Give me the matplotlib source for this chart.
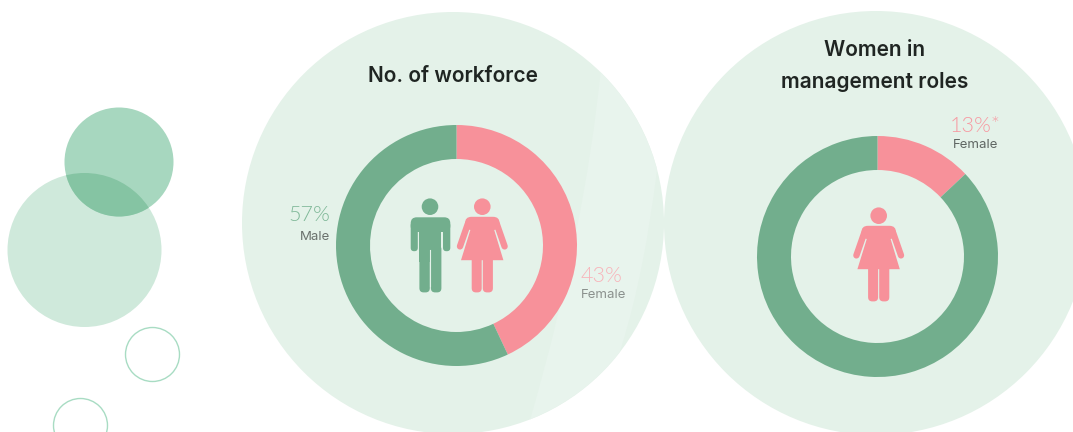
## DONUT INFOGRAPHIC: WORKFORCE AND WOMEN IN MANAGEMENT ##
import matplotlib.pyplot as plt
from matplotlib.patches import Circle, FancyBboxPatch, PathPatch, Polygon, Rectangle
from matplotlib.path import Path

## DATA ##
workforce_labels = ["Female", "Male"]
workforce_values = [43, 57]
management_labels = ["Female", "Male"]
management_values = [13, 87]

title_left = "No. of workforce"
title_right = ["Women in", "management roles"]

## COLORS ##
GREEN = "#72ae8d"
PINK = "#f7919a"
PALE = "#e4f2e9"
PALE_LIGHT = "#e8f4ed"

plt.rcParams['font.family'] = ['Inter', 'DejaVu Sans']
HEIGHT = 432


## FUNCTIONS ##
def flip(y):
    # layout is measured from the top edge
    return HEIGHT - y

def circle(ax, x, y, r, **kwargs):
    patch = Circle((x, flip(y)), r, **kwargs)
    ax.add_patch(patch)
    return patch

def round_box(ax, x0, y0, x1, y1, r, color):
    ax.add_patch(FancyBboxPatch((x0, flip(y1)), x1 - x0, y1 - y0,
                                boxstyle="round,pad=0,rounding_size=%g" % r,
                                fc=color, ec="none", zorder=5))

def donut(ax, values, x, y, colors):
    ax.pie(values, colors=colors, startangle=90, counterclock=False, center=(x, flip(y)),
           radius=120.5, wedgeprops=dict(width=34, edgecolor="none", zorder=4), frame=True)

def percent(ax, x, y, text, ha, color):
    ax.text(x, flip(y), text, ha=ha, va="center", fontsize=15.5, family=['Lato', 'DejaVu Sans'],
            fontweight=300, color=color, zorder=7)

def title(ax, x, y, text):
    ax.text(x, flip(y), text, ha="center", va="center", fontsize=15, fontweight=600,
            color="#1f2522", zorder=7)

def draw_man(ax, dx, dy):
    circle(ax, 430 + dx, 206.7 + dy, 8.3, fc=GREEN, ec="none", zorder=5)
    round_box(ax, 410.7 + dx, 217.3 + dy, 450.3 + dx, 232 + dy, 6, GREEN)
    round_box(ax, 410.7 + dx, 222 + dy, 417.8 + dx, 251.2 + dy, 3.4, GREEN)
    round_box(ax, 443 + dx, 222 + dy, 450.3 + dx, 251.2 + dy, 3.4, GREEN)
    ax.add_patch(Rectangle((419.4 + dx, flip(262 + dy)), 22, 40, fc=GREEN, ec="none", zorder=5))
    round_box(ax, 419.4 + dx, 245 + dy, 429.8 + dx, 292.4 + dy, 4.2, GREEN)
    round_box(ax, 430.9 + dx, 245 + dy, 441.4 + dx, 292.4 + dy, 4.2, GREEN)
    ax.plot([430.3 + dx, 430.3 + dx], [flip(250 + dy), flip(286 + dy)], color=PALE, lw=0.8, zorder=6)

def draw_woman(ax, dx, dy):
    circle(ax, 482.3 + dx, 206.7 + dy, 8.3, fc=PINK, ec="none", zorder=5)
    # shoulders and skirt
    round_box(ax, 465 + dx, 216.8 + dy, 499.6 + dx, 230 + dy, 6.5, PINK)
    skirt = [(471.6, 226), (493, 226), (503.4, 260.2), (461, 260.2)]
    ax.add_patch(Polygon([(px + dx, flip(py + dy)) for px, py in skirt], fc=PINK, ec="none", zorder=5))
    # arms
    ax.plot([467.8 + dx, 460 + dx], [flip(224 + dy), flip(246.4 + dy)], color=PINK, lw=4.6,
            solid_capstyle="round", zorder=5)
    ax.plot([496.8 + dx, 504.6 + dx], [flip(224 + dy), flip(246.4 + dy)], color=PINK, lw=4.6,
            solid_capstyle="round", zorder=5)
    # legs
    round_box(ax, 471.7 + dx, 255 + dy, 481.7 + dx, 292.4 + dy, 4.2, PINK)
    round_box(ax, 482.8 + dx, 255 + dy, 492.9 + dx, 292.4 + dy, 4.2, PINK)


## MAIN ##
fig = plt.figure(figsize=(10.73, 4.32), dpi=100, facecolor="white")
ax = fig.add_axes([0, 0, 1, 1])

# decoration on the left, overlap drawn as its own clipped circle
bubble = circle(ax, 84.5, 250, 77, fc="#cfe9db", ec="none", zorder=1)
circle(ax, 119, 162, 54.5, fc="#a7d7bf", ec="none", zorder=2)
overlap = circle(ax, 119, 162, 54.5, fc="#85c4a3", ec="none", zorder=3)
overlap.set_clip_path(bubble)
circle(ax, 152.5, 354.5, 27, fc="none", ec="#a8dcc3", lw=1, zorder=2)
circle(ax, 80.5, 425.5, 27, fc="none", ec="#a8dcc3", lw=1, zorder=2)

# big background discs
disc_left = circle(ax, 453, 223, 211, fc=PALE, ec="none", zorder=1)
circle(ax, 876, 223, 212, fc=PALE, ec="none", zorder=1)

# lighter sweep across the left disc
sweep = Path([(601, flip(68)), (585, flip(230)), (530, flip(420)),
              (600, flip(420)), (622, flip(345)),
              (645, flip(270)), (657, flip(170)),
              (660, flip(90)), (601, flip(68))],
             [Path.MOVETO, Path.CURVE3, Path.CURVE3,
              Path.CURVE3, Path.CURVE3,
              Path.CURVE3, Path.CURVE3,
              Path.CURVE3, Path.CURVE3])
sweep_patch = PathPatch(sweep, fc=PALE_LIGHT, ec="none", zorder=2)
ax.add_patch(sweep_patch)
sweep_patch.set_clip_path(disc_left)

# the two rings
donut(ax, workforce_values, 456.5, 245.5, [PINK, GREEN])
donut(ax, management_values, 877.5, 256.5, [PINK, GREEN])

draw_man(ax, 0, 0)
draw_woman(ax, 0, 0)
draw_woman(ax, 396.4, 9)

# titles
title(ax, 453, 76.5, title_left)
title(ax, 875, 50, title_right[0])
title(ax, 875, 82, title_right[1])

# value labels
percent(ax, 330.5, 215, "%d%%" % workforce_values[1], "right", "#7fb898")
ax.text(330.5, flip(236.5), workforce_labels[1], ha="right", va="center", fontsize=9.5,
        color="#6a716d", zorder=7)
percent(ax, 580.5, 276, "%d%%" % workforce_values[0], "left", "#f8b4ba")
ax.text(580.5, flip(295.5), workforce_labels[0], ha="left", va="center", fontsize=9.5,
        color="#8b918e", zorder=7)
percent(ax, 949.5, 125.5, "%d%%*" % management_values[0], "left", "#f79aa2")
ax.text(952.5, flip(145.5), management_labels[0], ha="left", va="center", fontsize=9.5,
        color="#5f6663", zorder=7)

ax.set_xlim(0, 1073)
ax.set_ylim(0, HEIGHT)
ax.set_aspect("equal")
ax.axis("off")

fig.savefig("out.png", dpi=100, facecolor="white")
